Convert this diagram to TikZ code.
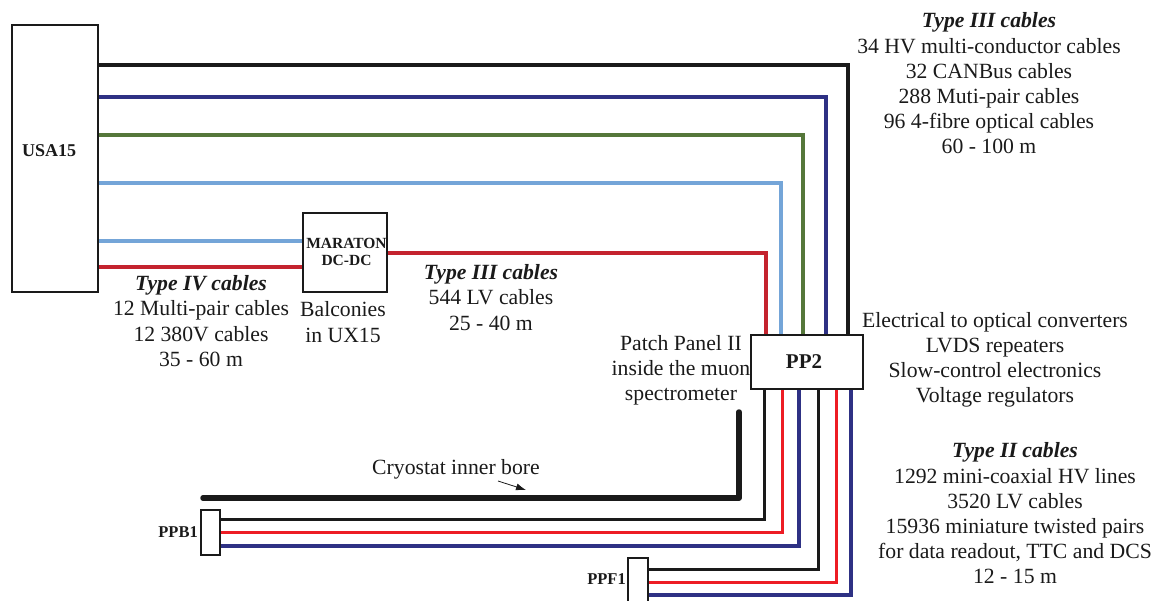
\documentclass[tikz,border=0pt]{standalone}
\usepackage{fontspec}
\setmainfont{Liberation Serif}
\usetikzlibrary{arrows.meta}
\definecolor{cableblack}{HTML}{1A1A1A}
\definecolor{cablenavy}{HTML}{2E3184}
\definecolor{cablegreen}{HTML}{55773A}
\definecolor{cablesky}{HTML}{74A5D8}
\definecolor{cablered}{HTML}{C4232E}
\definecolor{cablebright}{HTML}{ED1C24}
\tikzset{
  box/.style={draw=cableblack, line width=1.6pt, fill=white, inner sep=0pt},
  txt/.style={align=center, text=cableblack, inner sep=0pt, font=\fontsize{21.7}{25.2}\selectfont},
  tag/.style={text=cableblack, inner sep=0pt, font=\fontsize{16.5}{17}\selectfont\bfseries, align=center},
  wire/.style={line width=4pt},
  finewire/.style={line width=3pt},
}
\begin{document}
\begin{tikzpicture}[x=1pt, y=-1pt]
  \useasboundingbox (0,0) rectangle (1155,600);
  % free ends of the cables
  \coordinate (ua) at (98,65);
  \coordinate (ub) at (98,97);
  \coordinate (uc) at (98,135);
  \coordinate (ud) at (98,183);
  \coordinate (ue) at (98,241);
  \coordinate (uf) at (98,267);
  \coordinate (me) at (303,241);
  \coordinate (mf) at (303,267);
  \coordinate (mr) at (387,253);
  \coordinate (pa) at (848,335);
  \coordinate (pb) at (826,335);
  \coordinate (pc) at (803,335);
  \coordinate (pd) at (781,335);
  \coordinate (pr) at (766,335);
  \coordinate (qa) at (764,389);
  \coordinate (qb) at (782,389);
  \coordinate (qc) at (799,389);
  \coordinate (qd) at (818,389);
  \coordinate (qe) at (836,389);
  \coordinate (qf) at (851,389);
  \coordinate (ba) at (220,519);
  \coordinate (bb) at (220,532);
  \coordinate (bc) at (220,546);
  \coordinate (fa) at (648,569);
  \coordinate (fb) at (648,582);
  \coordinate (fc) at (648,595);
  \coordinate (boreA) at (203,498);
  \coordinate (boreB) at (739,412);
  \coordinate (arrowA) at (498,481);
  \coordinate (arrowB) at (526,490);
  % cables
  \draw[wire, cableblack] (ua) -| (pa);
  \draw[wire, cablenavy] (ub) -| (pb);
  \draw[wire, cablegreen] (uc) -| (pc);
  \draw[wire, cablesky] (ud) -| (pd);
  \draw[wire, cablesky] (ue) -- (me);
  \draw[wire, cablered] (uf) -- (mf);
  \draw[wire, cablered] (mr) -| (pr);
  \draw[finewire, cableblack] (ba) -| (qa);
  \draw[finewire, cablebright] (bb) -| (qb);
  \draw[wire, cablenavy] (bc) -| (qc);
  \draw[finewire, cableblack] (fa) -| (qd);
  \draw[finewire, cablebright] (fb) -| (qe);
  \draw[wire, cablenavy] (fc) -| (qf);
  \draw[line width=5.5pt, cableblack, line cap=round, line join=round] (boreA) -| (boreB);
  \draw[-{Latex[length=10pt,width=7pt]}, line width=0.8pt, cableblack] (arrowA) -- (arrowB);
  % boxes
  \node[box, minimum width=86pt, minimum height=267pt] (usa15) at (55,158.5) {};
  \node[tag, anchor=west, font=\fontsize{18}{20}\selectfont\bfseries] (usa15label) at (22,151) {USA15};
  \node[box, minimum width=84pt, minimum height=79pt] (maraton) at (345,252.5) {};
  \node[tag, font=\fontsize{15.5}{17}\selectfont\bfseries] (maratonlabel) at (346.5,252) {MARATON\\DC-DC};
  \node[box, minimum width=112pt, minimum height=54pt] (pp2) at (807,362) {};
  \node[font=\fontsize{21}{23}\selectfont\bfseries, text=cableblack, inner sep=0pt] (pp2label) at (804,362) {PP2};
  \node[box, minimum width=19pt, minimum height=45pt] (ppb1) at (210.5,532.5) {};
  \node[tag, anchor=east] (ppb1label) at (198,532) {PPB1};
  \node[box, minimum width=20pt, minimum height=50pt] (ppf1) at (638,583) {};
  \node[tag, anchor=east] (ppf1label) at (626,579) {PPF1};
  % texts
  \node[txt] (typeiiitop) at (989,83.5) {\textbf{\textit{Type III cables}}\\34 HV multi-conductor cables\\32 CANBus cables\\288 Muti-pair cables\\96 4-fibre optical cables\\60 - 100 m};
  \node[txt] (typeiv) at (201,321) {\textbf{\textit{Type IV cables}}\\12 Multi-pair cables\\12 380V cables\\35 - 60 m};
  \node[txt] (balconies) at (343,322) {Balconies\\in UX15};
  \node[txt] (typeiiilv) at (491,297.5) {\textbf{\textit{Type III cables}}\\544 LV cables\\25 - 40 m};
  \node[txt] (patch) at (681,370) {Patch Panel II\\inside the muon\\spectrometer};
  \node[txt] (pp2list) at (995,360) {Electrical to optical converters\\LVDS repeaters\\Slow-control electronics\\Voltage regulators};
  \node[txt] (typeii) at (1015,513.5) {\textbf{\textit{Type II cables}}\\1292 mini-coaxial HV lines\\3520 LV cables\\15936 miniature twisted pairs\\for data readout, TTC and DCS\\12 - 15 m};
  \node[txt] (bore) at (456,469) {Cryostat inner bore};
\end{tikzpicture}
\end{document}
